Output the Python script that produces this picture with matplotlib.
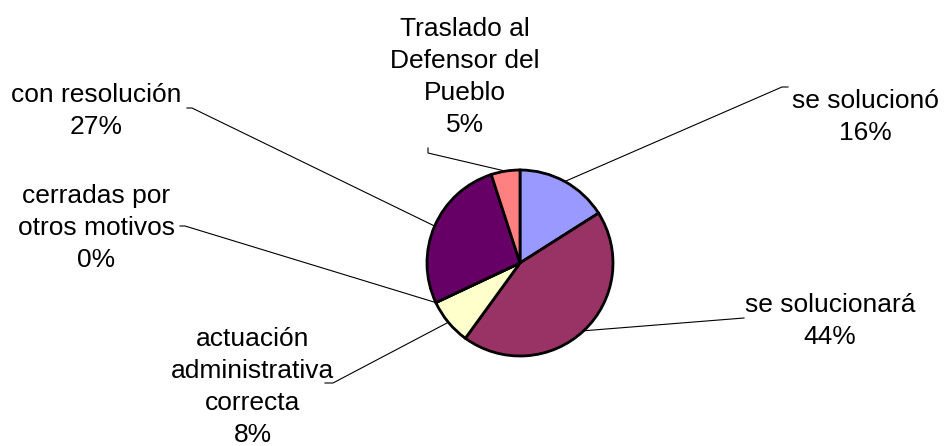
import numpy as np
import matplotlib
matplotlib.use("Agg")
import matplotlib.pyplot as plt

# outcome shares (%) clockwise from 12 o'clock
categories = [
    "se solucionó",
    "se solucionará",
    "actuación\nadministrativa\ncorrecta",
    "cerradas por\notros motivos",
    "con resolución",
    "Traslado al\nDefensor del\nPueblo",
]
shares = [16, 44, 8, 0, 27, 5]
colors = ["#9999FF", "#993366", "#FFFFCC", "#CCFFFF", "#660066", "#FF8080"]

W, H = 945, 446
CENTER = (520, H - 263)
RADIUS = 93

# label centre and leader elbow (figure pixels, y measured from top)
label_pos = [(865, 117), (830, 321), (253, 387), (96, 228), (96, 111), (465, 77)]
elbows = [
    [(788, 87), (782, 87)],
    [(744, 318)],
    [(325, 383), (333, 383)],
    [(180, 226), (185, 226)],
    [(187, 108), (192, 108)],
    [(428, 148), (428, 153)],
]

plt.rcParams["font.family"] = ["Liberation Sans", "DejaVu Sans"]
fig = plt.figure(figsize=(W / 100, H / 100), dpi=100)
ax = fig.add_axes([0, 0, 1, 1])

wedges, _ = ax.pie(
    shares,
    colors=colors,
    startangle=90,
    counterclock=False,
    center=CENTER,
    radius=RADIUS,
    wedgeprops=dict(edgecolor="black", linewidth=2),
    frame=True,
)
ax.set_xlim(0, W)
ax.set_ylim(0, H)
ax.set_aspect("equal")
ax.axis("off")

for w, name, val, (lx, ly), pts in zip(wedges, categories, shares, label_pos, elbows):
    ang = np.deg2rad((w.theta1 + w.theta2) / 2)
    px = CENTER[0] + RADIUS * np.cos(ang)
    py = CENTER[1] + RADIUS * np.sin(ang)
    xs = [p[0] for p in pts] + [px]
    ys = [H - p[1] for p in pts] + [py]
    ax.plot(xs, ys, color="black", linewidth=0.8, zorder=0)
    ax.text(lx, H - ly, f"{name}\n{val}%", ha="center", va="center",
            fontsize=19, linespacing=1.43, color="black")

fig.savefig("out.png", dpi=100)
